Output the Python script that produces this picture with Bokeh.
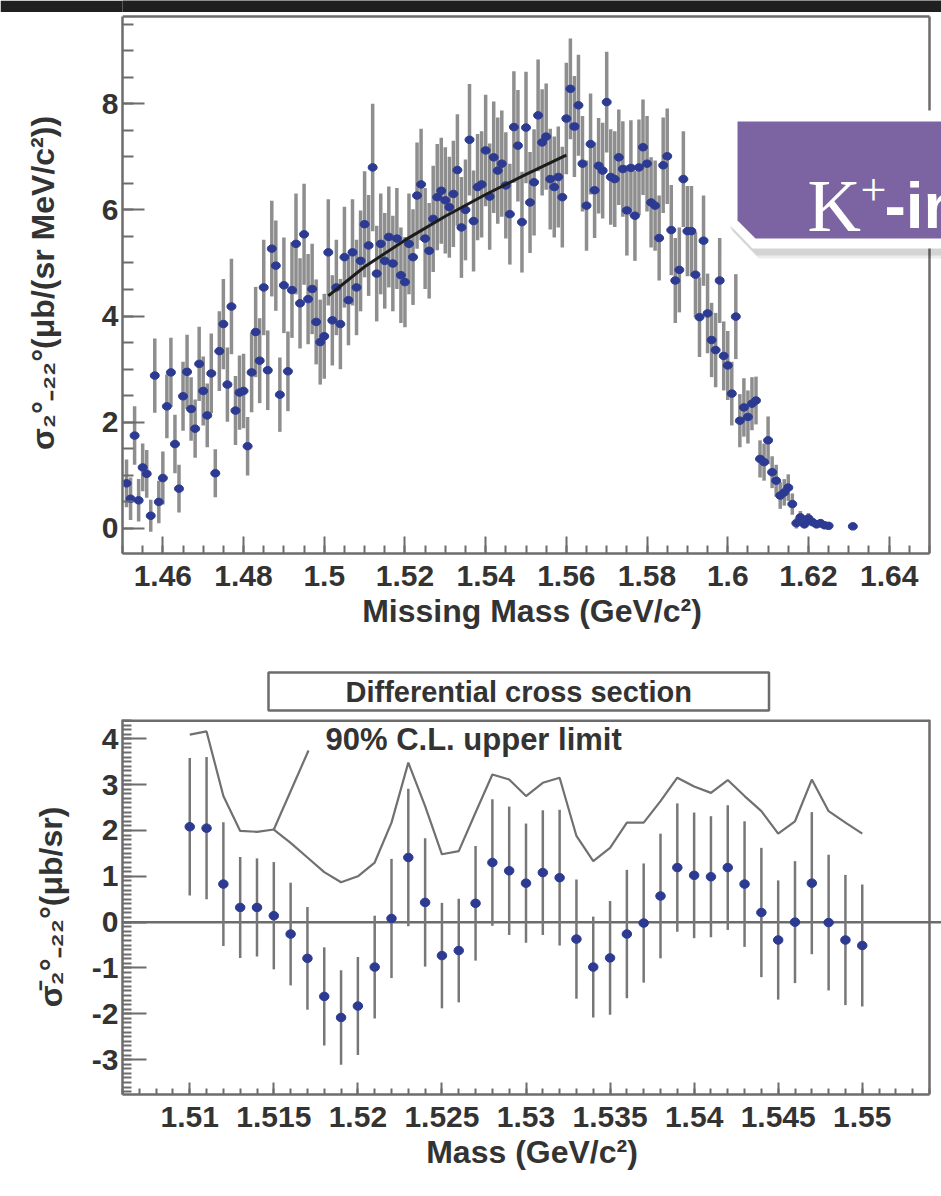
import numpy as np
from bokeh.plotting import figure
from bokeh.layouts import column
from bokeh.models import (ColumnDataSource, FixedTicker, Span, Label,
                          PolyAnnotation, Range1d)
from bokeh.embed import file_html
from bokeh.resources import INLINE

# ---------------- data: top panel (missing mass spectrum) ----------------
top_x = [round(1.451 + 0.001 * i, 3) for i in range(175)] + [1.631]
top_y = [
    0.85, 0.56, 1.75, 0.53, 1.15, 1.03, 0.24,
    2.88, 0.50, 0.95, 2.30, 2.94, 1.59, 0.75, 2.49, 2.95, 2.25, 1.88, 3.10, 2.59,
    2.13, 2.92, 1.04, 3.34, 3.85, 2.71, 4.18, 2.22, 2.56, 2.59, 1.55, 2.94, 3.70, 3.16, 4.54, 2.98,
    5.27, 4.95, 2.52, 4.58, 2.96, 4.49, 5.36, 4.24, 5.54, 4.32, 4.51, 3.89, 3.51, 3.62,
    5.20, 3.92, 4.54, 3.85, 5.11, 4.30, 5.20, 4.54, 5.04, 5.73, 5.33, 6.80, 4.80, 5.36, 5.04,
    5.49, 4.99, 5.46, 4.77, 4.64, 5.36, 5.11, 6.27, 6.48, 5.46, 5.23, 5.83, 6.24, 6.36, 6.18,
    6.05, 6.30, 6.75, 5.67, 6.00, 7.32, 5.79, 6.43, 6.48, 7.12, 6.25, 6.99, 6.74, 6.87, 6.46,
    5.92, 7.56, 7.21, 5.77, 7.55, 6.14, 6.52, 7.78, 7.27, 7.38, 6.58, 6.43, 6.62, 6.24, 7.72,
    8.28, 7.57, 7.97, 6.87, 6.08, 7.24, 6.37, 6.83, 6.74, 8.03, 6.62, 6.58, 6.99, 6.77, 5.99,
    6.79, 5.89, 6.80, 7.18, 6.87, 6.14, 6.08, 5.47, 6.84, 7.01,
    5.62, 4.67, 4.87, 6.58, 5.60, 5.60, 4.78, 3.98, 5.42, 4.05, 3.55, 3.36, 4.67, 3.25, 3.07,
    2.54, 3.99, 2.03, 2.28, 2.10, 2.35, 2.41, 1.31, 1.25, 1.66, 1.06, 0.90, 0.62, 0.68, 0.77, 0.46,
    0.10, 0.21, 0.08, 0.19, 0.12, 0.08, 0.10, 0.06, 0.05, 0.04,
]
top_err = [
    0.45, 0.40, 0.55, 0.40, 0.45, 0.45, 0.30,
    0.70, 0.40, 0.50, 0.60, 0.65, 0.55, 0.45, 0.65, 0.70, 0.60, 0.55, 0.70, 0.65,
    0.60, 0.75, 0.45, 0.75, 0.85, 0.70, 0.90, 0.65, 0.70, 0.70, 0.55, 0.75, 0.85, 0.80, 0.90, 0.75,
    0.90, 0.85, 0.70, 0.90, 0.75, 0.90, 0.95, 0.85, 0.95, 0.85, 0.85, 0.80, 0.80, 0.80,
    1.00, 0.85, 0.90, 0.85, 0.95, 0.85, 1.00, 0.90, 0.95, 1.00, 0.95, 1.20, 0.90, 0.95, 0.90,
    0.95, 0.90, 0.95, 0.90, 0.85, 0.95, 0.90, 1.00, 1.05, 0.95, 0.90, 1.00, 1.00, 1.00, 1.00,
    0.95, 1.00, 1.05, 0.95, 0.95, 1.05, 0.95, 1.00, 1.00, 1.05, 1.00, 1.05, 1.00, 1.00, 1.00,
    0.95, 1.05, 1.05, 0.95, 1.05, 0.95, 1.00, 1.05, 1.00, 1.00, 0.95, 0.95, 0.95, 0.95, 1.05,
    0.95, 0.95, 0.95, 0.90, 0.85, 0.95, 0.90, 0.90, 0.90, 0.95, 0.90, 0.90, 0.90, 0.90, 0.85,
    0.90, 0.85, 0.90, 0.90, 0.90, 0.85, 0.85, 0.80, 0.90, 0.90,
    0.85, 0.80, 0.80, 0.90, 0.85, 0.85, 0.80, 0.75, 0.85, 0.75, 0.70, 0.70, 0.80, 0.65, 0.65,
    0.60, 0.80, 0.50, 0.55, 0.50, 0.50, 0.45, 0.35, 0.35, 0.45, 0.30, 0.30, 0.25, 0.25, 0.25, 0.20,
    0.10, 0.12, 0.08, 0.10, 0.08, 0.08, 0.08, 0.06, 0.06, 0.05,
]
fit_x = [1.501, 1.510, 1.520, 1.530, 1.540, 1.550, 1.560]
fit_y = [4.38, 4.93, 5.43, 5.88, 6.29, 6.67, 7.03]

top_xticks = [1.46, 1.48, 1.50, 1.52, 1.54, 1.56, 1.58, 1.60, 1.62, 1.64]
top_xlabels = ["1.46", "1.48", "1.5", "1.52", "1.54", "1.56", "1.58", "1.6", "1.62", "1.64"]
top_yticks = [0, 2, 4, 6, 8]
top_ylabels = ["0", "2", "4", "6", "8"]

# ---------------- data: bottom panel (differential cross section) ----------------
bot_x = [round(1.510 + 0.001 * i, 3) for i in range(41)]
bot_y = [2.08, 2.05, 0.83, 0.32, 0.32, 0.14, -0.26, -0.79, -1.62, -2.08,
         -1.83, -0.98, 0.08, 1.41, 0.43, -0.73, -0.62, 0.41, 1.30, 1.12,
         0.85, 1.08, 0.97, -0.37, -0.98, -0.78, -0.26, -0.02, 0.57, 1.19,
         1.02, 0.99, 1.19, 0.83, 0.21, -0.39, 0.00, 0.85, -0.01, -0.39, -0.51]
bot_err = [1.50, 1.55, 1.35, 1.10, 1.07, 1.17, 1.12, 1.12, 1.07, 1.03,
           1.07, 1.12, 1.30, 1.50, 1.40, 1.15, 1.13, 1.25, 1.38, 1.40,
           1.30, 1.36, 1.48, 1.30, 1.10, 1.24, 1.40, 1.30, 1.36, 1.40,
           1.37, 1.32, 1.36, 1.37, 1.41, 1.30, 1.33, 1.55, 1.48, 1.42, 1.33]
upper_limit = [4.09, 4.16, 2.75, 1.99, 1.97, 2.02, 1.73, 1.41, 1.09, 0.87,
               1.00, 1.30, 2.17, 3.48, 2.53, 1.48, 1.55, 2.39, 3.22, 3.11,
               2.75, 3.04, 3.15, 1.88, 1.33, 1.62, 2.17, 2.17, 2.64, 3.15,
               2.96, 2.82, 3.10, 2.75, 2.42, 1.93, 2.20, 3.11, 2.42, 2.17, 1.93]

bot_xticks = [1.51, 1.515, 1.52, 1.525, 1.53, 1.535, 1.54, 1.545, 1.55]
bot_xlabels = ["1.51", "1.515", "1.52", "1.525", "1.53", "1.535", "1.54", "1.545", "1.55"]
bot_yticks = [-3, -2, -1, 0, 1, 2, 3, 4]
bot_ylabels = ["-3", "-2", "-1", "0", "1", "2", "3", "4"]

# ---------------- styling ----------------
FONT = "Liberation Sans"
TXT = "#333333"
FRAME = "#6c6c6c"
BLUE = "#2c3a92"
BAR_TOP = "#8e8e8e"
BAR_BOT = "#777777"
PURPLE = "#7c63a2"

W = 941
TOP_X = (1.45, 1.65)          # visible ROOT frame of the upper panel
TOP_Y = (-0.471, 9.642)
BOT_X = (1.506, 1.554)        # visible ROOT frame of the lower panel
BOT_Y = (-3.76, 4.42)
FRAME_PX = 807                # drawn frame width (page x 122..929)
CANVAS_FRAME_PX = 819         # plotting area reaches the page edge (122..941)


def style_axes(p, xt, xl, xminor, yt, yl, yminor, xtick, ytick, ylab_standoff):
    p.xaxis.ticker = FixedTicker(ticks=xt, minor_ticks=xminor)
    p.yaxis.ticker = FixedTicker(ticks=yt, minor_ticks=yminor)
    p.xaxis.major_label_overrides = dict(zip(xt, xl))
    p.yaxis.major_label_overrides = dict(zip(yt, yl))
    for ax, (maj, mnr) in ((p.xaxis[0], xtick), (p.yaxis[0], ytick)):
        ax.major_tick_in = maj
        ax.major_tick_out = 0
        ax.minor_tick_in = mnr
        ax.minor_tick_out = 0
        ax.axis_line_color = FRAME
        ax.axis_line_width = 2.5
        ax.major_tick_line_color = FRAME
        ax.major_tick_line_width = 2
        ax.minor_tick_line_color = FRAME
        ax.minor_tick_line_width = 2
        ax.major_label_text_font = FONT
        ax.major_label_text_font_size = "30px"
        ax.major_label_text_font_style = "bold"
        ax.major_label_text_color = TXT
        ax.axis_label_text_font = FONT
        ax.axis_label_text_font_size = "32px"
        ax.axis_label_text_font_style = "bold"
        ax.axis_label_text_color = TXT
    p.xaxis.major_label_standoff = 12
    p.xaxis.axis_label_standoff = 4
    p.yaxis.major_label_standoff = 4
    p.yaxis.axis_label_standoff = ylab_standoff
    p.grid.visible = False
    p.outline_line_color = None


# ---------------- decorative dark band at the very top ----------------
band = figure(width=W, height=12, x_range=Range1d(0, 1), y_range=Range1d(0, 1),
              output_backend="svg", toolbar_location=None,
              x_axis_location=None, y_axis_location=None, min_border=0)
band.grid.visible = False
band.outline_line_color = None
band.background_fill_color = "#202020"
band.border_fill_color = "#202020"

# ---------------- top panel ----------------
PX_PER_Y = (TOP_Y[1] - TOP_Y[0]) / 537.0
PX_PER_X = (TOP_X[1] - TOP_X[0]) / FRAME_PX
top = figure(width=W, height=640,
             x_range=Range1d(TOP_X[0], TOP_X[0] + CANVAS_FRAME_PX * PX_PER_X),
             y_range=Range1d(TOP_Y[0], TOP_Y[1] + 4 * PX_PER_Y),
             output_backend="svg", toolbar_location=None,
             min_border_left=122, min_border_right=0, min_border_top=0,
             min_border_bottom=99,
             x_axis_label="Missing Mass (GeV/c²)",
             y_axis_label="σ₂°₋₂₂°(μb/(sr MeV/c²))")
style_axes(top, top_xticks, top_xlabels,
           [round(1.45 + 0.005 * i, 3) for i in range(41)],
           top_yticks, top_ylabels,
           [round(-0.5 + 0.5 * i, 1) for i in range(21)],
           (17, 8), (22, 11), 38)
top.xaxis.bounds = TOP_X
top.yaxis.bounds = TOP_Y
# top and right edges of the ROOT frame
top.segment(x0=[TOP_X[0], TOP_X[1]], y0=[TOP_Y[1], TOP_Y[0]],
            x1=[TOP_X[1], TOP_X[1]], y1=[TOP_Y[1], TOP_Y[1]],
            line_color=FRAME, line_width=2.5)

ty = np.array(top_y)
te = np.array(top_err)
tsrc = ColumnDataSource(dict(x=top_x, y=top_y, lo=ty - te, hi=ty + te))
top.segment(x0="x", y0="lo", x1="x", y1="hi", source=tsrc,
            line_color=BAR_TOP, line_width=3.5)
top.ellipse(x="x", y="y", width=9, height=7.5, width_units="screen",
            height_units="screen", source=tsrc, fill_color=BLUE, line_color=BLUE)
top.line(fit_x, fit_y, line_color="#1c1c1c", line_width=3)


# page-pixel helpers for the overlay box (upper frame: x 122..929, y 16..553)
def tpx(px):
    return TOP_X[0] + (px - 122) * PX_PER_X


def tpy(py):
    return TOP_Y[1] - (py - 16) * PX_PER_Y


shadow_pts = [(729, 113), (965, 113), (965, 253), (755, 253), (729, 226)]
for dx, dy, a in ((1, 2, 0.10), (3, 5, 0.07)):
    top.add_layout(PolyAnnotation(xs=[tpx(x + dx) for x, _ in shadow_pts],
                                  ys=[tpy(y + dy) for _, y in shadow_pts],
                                  fill_color="black", fill_alpha=a, line_alpha=0))
outer = [(727, 110), (965, 110), (965, 248), (752, 248), (727, 222)]
top.add_layout(PolyAnnotation(xs=[tpx(x) for x, _ in outer], ys=[tpy(y) for _, y in outer],
                              fill_color="white", fill_alpha=1, line_alpha=0))
inner = [(737, 121), (965, 121), (965, 238), (755, 238), (737, 220)]
top.add_layout(PolyAnnotation(xs=[tpx(x) for x, _ in inner], ys=[tpy(y) for _, y in inner],
                              fill_color=PURPLE, fill_alpha=1, line_alpha=0))
top.add_layout(Label(x=tpx(807), y=tpy(205), text="K", text_font="Liberation Serif",
                     text_font_size="74px", text_color="white",
                     text_align="left", text_baseline="alphabetic"))
top.add_layout(Label(x=tpx(860), y=tpy(189), text="+", text_font="Liberation Serif",
                     text_font_size="46px", text_color="white",
                     text_align="left", text_baseline="alphabetic"))
top.add_layout(Label(x=tpx(884), y=tpy(205), text="-in", text_font=FONT,
                     text_font_size="64px", text_font_style="bold", text_color="white",
                     text_align="left", text_baseline="alphabetic"))

# ---------------- bottom panel ----------------
BPX_PER_X = (BOT_X[1] - BOT_X[0]) / FRAME_PX
bot = figure(width=W, height=544,
             x_range=Range1d(BOT_X[0], BOT_X[0] + CANVAS_FRAME_PX * BPX_PER_X),
             y_range=Range1d(*BOT_Y),
             output_backend="svg", toolbar_location=None,
             min_border_left=122, min_border_right=0, min_border_top=67,
             min_border_bottom=102,
             x_axis_label="Mass (GeV/c²)",
             y_axis_label="σ̄₂°₋₂₂°(μb/sr)")
style_axes(bot, bot_xticks, bot_xlabels,
           [round(1.506 + 0.001 * i, 3) for i in range(49)],
           bot_yticks, bot_ylabels,
           [round(-3.7 + 0.1 * i, 1) for i in range(82)],
           (12, 6), (24, 9), 20)
bot.xaxis.bounds = BOT_X
# top edge (half of it falls inside the plotting area) and right edge of the frame
bot.segment(x0=[BOT_X[0]], y0=[BOT_Y[1]], x1=[BOT_X[1]], y1=[BOT_Y[1]],
            line_color=FRAME, line_width=5)
bot.segment(x0=[BOT_X[1]], y0=[BOT_Y[0]], x1=[BOT_X[1]], y1=[BOT_Y[1]],
            line_color=FRAME, line_width=2.5)

bot.title.text = "Differential cross section"
bot.title.align = "left"
bot.title.offset = 146
bot.title.standoff = 18
bot.title.text_font = FONT
bot.title.text_font_size = "29px"
bot.title.text_font_style = "bold"
bot.title.text_color = TXT
bot.title.background_fill_color = "white"
bot.title.border_line_color = FRAME
bot.title.border_line_width = 2.5
bot.title.padding = (77, 3)

bot.add_layout(Span(location=0, dimension="width", line_color=FRAME,
                    line_width=2.5, level="underlay"))
by_ = np.array(bot_y)
be = np.array(bot_err)
bsrc = ColumnDataSource(dict(x=bot_x, y=bot_y, lo=by_ - be, hi=by_ + be))
bot.segment(x0="x", y0="lo", x1="x", y1="hi", source=bsrc,
            line_color=BAR_BOT, line_width=2.5)
bot.line(bot_x, upper_limit, line_color="#707070", line_width=2.2)


def bpx(px):
    return BOT_X[0] + (px - 122) * BPX_PER_X


def bpy(py):
    return BOT_Y[1] - (py - 719) * (BOT_Y[1] - BOT_Y[0]) / 375.0


# pointer from the upper-limit curve to its caption
PTR_I = 5
bot.line([bot_x[PTR_I], bpx(308)], [upper_limit[PTR_I], bpy(750)],
         line_color="#707070", line_width=2.2)
bot.ellipse(x="x", y="y", width=9.5, height=8.5, width_units="screen",
            height_units="screen", source=bsrc, fill_color=BLUE, line_color=BLUE)

bot.add_layout(Label(x=bpx(325), y=bpy(739), text="90% C.L. upper limit",
                     text_font=FONT, text_font_size="31px", text_font_style="bold",
                     text_color=TXT, text_align="left", text_baseline="middle"))

layout = column(band, top, bot)
open("out.html", "w").write(file_html(layout, INLINE))
